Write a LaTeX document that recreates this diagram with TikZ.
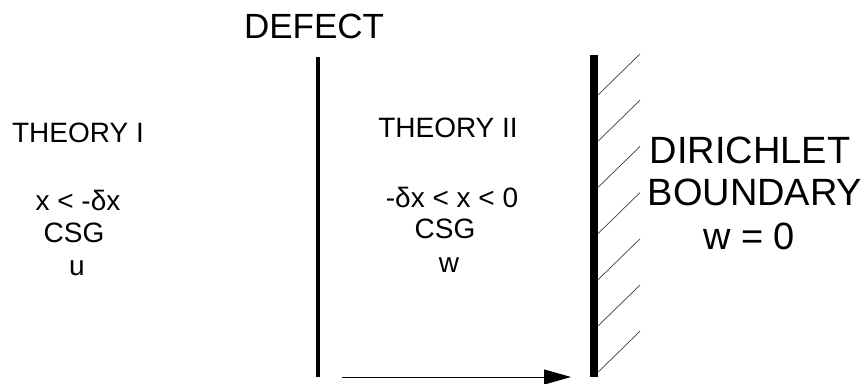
\documentclass[tikz,border=0pt]{standalone}
\usepackage{fontspec}
\setmainfont{Liberation Sans}
\usetikzlibrary{arrows.meta}
\begin{document}
\begin{tikzpicture}[x=1pt,y=-1pt,
  lbl/.style={anchor=base,inner sep=0pt,font=\fontsize{28}{33}\selectfont},
  biglbl/.style={anchor=base,inner sep=0pt,font=\fontsize{38}{44}\selectfont},
  deflbl/.style={anchor=base,inner sep=0pt,font=\fontsize{35}{42}\selectfont},
  defline/.style={line width=3.5pt},
  wall/.style={line width=8.5pt},
  hatch/.style={line width=0.7pt,black!75},
  flow/.style={line width=1pt,-{Triangle[length=27pt,width=15pt]}}]
\useasboundingbox[fill=white] (0,0) rectangle (867,383);
% texts
\node[deflbl] (defect) at (314,38) {DEFECT};
\node[lbl] (t1) at (78,142) {THEORY I};
\node[lbl] (t1a) at (78,210) {x < -δx};
\node[lbl] (t1b) at (74,242) {CSG};
\node[lbl] (t1c) at (77,275) {u};
\node[lbl] (t2) at (448,137) {THEORY II};
\node[lbl] (t2a) at (452,207) {-δx < x < 0};
\node[lbl] (t2b) at (445,238) {CSG};
\node[lbl] (t2c) at (449,272) {w};
\node[biglbl] (d1) at (750,163) {DIRICHLET};
\node[biglbl] (d2) at (755,205) {BOUNDARY};
\node[biglbl] (d3) at (749,249) {w = 0};
% defect line
\coordinate (dtop) at (318,57);
\coordinate (dbot) at (318,377);
\draw[defline] (dtop) -- (dbot);
% wall
\coordinate (wtop) at (594,55);
\coordinate (wbot) at (594,377);
\draw[wall] (wtop) -- (wbot);
\foreach \i in {0,...,6}{
  \coordinate (h\i) at (598,{95+46.2*\i});
  \coordinate (k\i) at (640,{54+46.2*\i});
  \draw[hatch] (h\i) -- (k\i);
}
% arrow
\coordinate (astart) at (342,377);
\coordinate (aend) at (571,377);
\draw[flow] (astart) -- (aend);
\end{tikzpicture}
\end{document}
